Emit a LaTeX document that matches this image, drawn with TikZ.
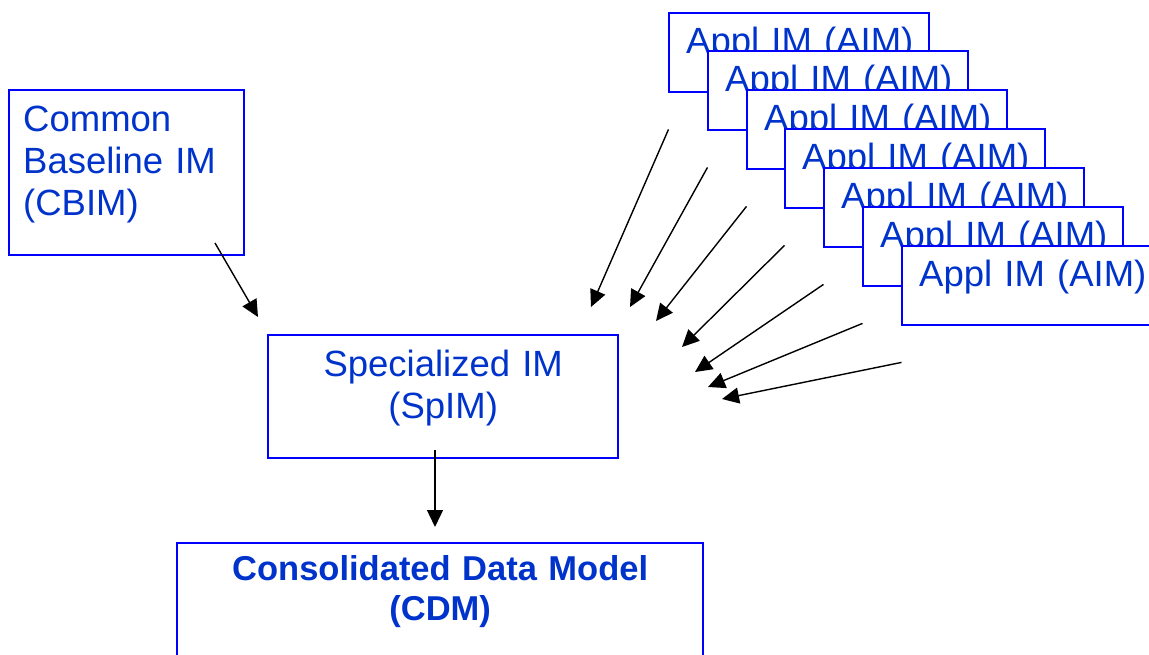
\documentclass[tikz,border=0pt]{standalone}
\usepackage{fontspec}
\setmainfont{Liberation Sans}
\usetikzlibrary{arrows.meta,calc}
\definecolor{boxblue}{RGB}{0,0,255}
\definecolor{txtblue}{RGB}{0,51,204}
\tikzset{
  box/.style={draw=boxblue, line width=2.4bp, fill=white, inner sep=0pt,
    text=txtblue, font=\fontsize{36.5bp}{42bp}\selectfont, anchor=north west},
  aimbox/.style={box, minimum width=260bp, text width=226bp, inner xsep=17bp,
    align=left, text height=40bp, text depth=39bp},
  conn/.style={line width=1.4bp, -{Triangle[length=17bp,width=16bp]}}
}
\begin{document}
\begin{tikzpicture}[x=1bp,y=-1bp]
\useasboundingbox (0,0) rectangle (1149,655);
\clip (0,0) rectangle (1149,655);
\node[box, text width=207bp, inner xsep=14bp, align=left, text height=41bp, text depth=124bp]
  (cbim) at (8,89) {Common\\Baseline IM\\(CBIM)};
\node[box, text width=350bp, align=center, text height=41bp, text depth=82bp]
  (spim) at (267,334) {Specialized IM\\(SpIM)};
\node[box, text width=526bp, align=center, text height=37bp, text depth=140bp,
  font=\bfseries\fontsize{34.5bp}{40bp}\selectfont]
  (cdm) at (176,542) {Consolidated Data Model\\(CDM)};
\foreach \i/\bx/\by in {1/668/12,2/707/50,3/746/89,4/784/128,5/823/167,6/862/206,7/901/245}{
  \node[aimbox] (aim\i) at (\bx,\by) {Appl~IM~(AIM)};
}
\coordinate (cbimS) at (215,243);
\coordinate (cbimT) at (258,317);
\draw[conn] (cbimS) -- (cbimT);
\coordinate (spimS) at (435,450);
\coordinate (cdmT) at (435,527);
\draw[conn] (spimS) -- (cdmT);
\foreach \i/\tx/\ty in {1/591/307,2/630/307,3/656/321,4/682/347,5/695/372,6/708/387,7/722/399}{
  \coordinate (s\i) at ($(aim\i.south west)+(0.5,36)$);
  \coordinate (t\i) at (\tx,\ty);
  \draw[conn] (s\i) -- (t\i);
}
\end{tikzpicture}
\end{document}
